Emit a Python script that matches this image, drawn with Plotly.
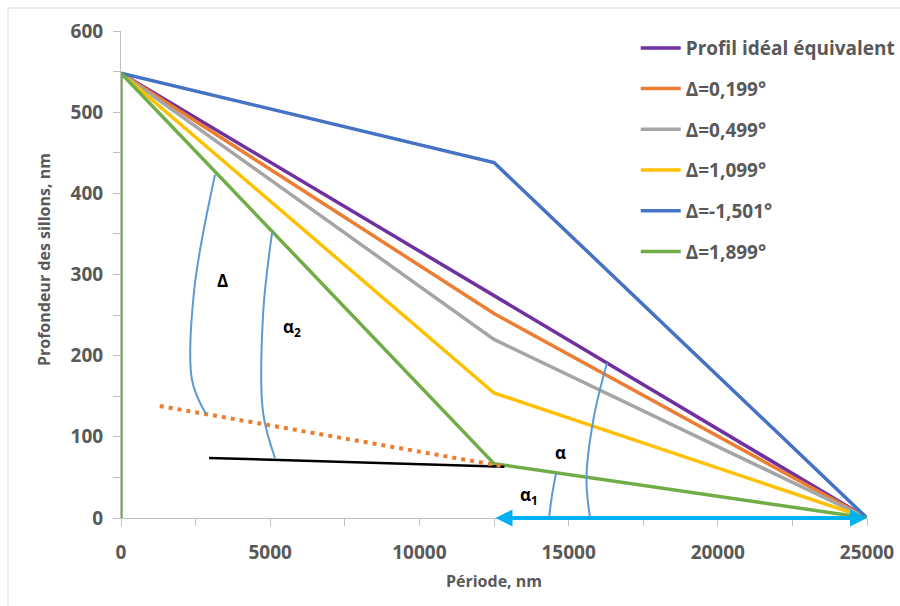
import plotly.graph_objects as go

# Groove depth profiles over one period (nm)
period_x = [0, 12500, 25000]
ideal_depth = [548, 274, 0]
d0199_depth = [548, 252, 0]
d0499_depth = [548, 220, 0]
d1099_depth = [548, 154, 0]
dm1501_depth = [548, 438, 0]
d1899_x = [0, 0, 12500, 25000]
d1899_depth = [0, 548, 67, 0]

series_names = ["Profil idéal équivalent", "Δ=0,199°", "Δ=0,499°",
                "Δ=1,099°", "Δ=-1,501°", "Δ=1,899°"]
series_colors = ["#7030A0", "#ED7D31", "#A5A5A5", "#FFC000", "#4472C4", "#70AD47"]

# Construction lines for the angle definitions
ref_line_x = [2950, 12850]
ref_line_y = [74, 63]
ext_line_x = [1300, 12750]
ext_line_y = [138, 64]

arc_delta_x = [3150, 2450, 2380, 2849]
arc_delta_y = [423, 280, 170, 128]
arc_alpha2_x = [5060, 4760, 4760, 5161]
arc_alpha2_y = [351, 250, 130, 74]
arc_alpha_x = [16287, 15850, 15600, 15718]
arc_alpha_y = [191, 125, 50, 0]
arc_alpha1_x = [14578, 14444, 14343]
arc_alpha1_y = [55, 28, 0]

# Angle labels
label_text = ["Δ", "α<sub>2</sub>", "α", "α<sub>1</sub>", "a"]
label_x = [3418, 5731, 14712, 13673, 17896]
label_y = [293, 235, 81, 28, -15]

# Half-period span "a"
span_x = [12500, 25000]
span_y = [0, 0]

FONT = "Open Sans"
GREY_TXT = "#595959"

fig = go.Figure()

profile_x = [period_x, period_x, period_x, period_x, period_x, d1899_x]
profile_y = [ideal_depth, d0199_depth, d0499_depth, d1099_depth, dm1501_depth, d1899_depth]
for i, (name, color, xs, ys) in enumerate(zip(series_names, series_colors, profile_x, profile_y)):
    fig.add_trace(go.Scatter(
        x=xs, y=ys, mode="lines", name=name,
        line=dict(color=color, width=3.5),
        legendgroup=f"g{i}", hoverinfo="skip",
    ))

fig.add_trace(go.Scatter(x=ref_line_x, y=ref_line_y, mode="lines",
                         line=dict(color="black", width=2.5), showlegend=False))
fig.add_trace(go.Scatter(x=ext_line_x, y=ext_line_y, mode="lines",
                         line=dict(color="#ED7D31", width=4, dash="4px,5px"), showlegend=False))

for ax_, ay_ in [(arc_delta_x, arc_delta_y), (arc_alpha2_x, arc_alpha2_y),
                 (arc_alpha_x, arc_alpha_y), (arc_alpha1_x, arc_alpha1_y)]:
    fig.add_trace(go.Scatter(x=ax_, y=ay_, mode="lines",
                             line=dict(color="#5B9BD5", width=2, shape="spline", smoothing=1.0),
                             showlegend=False))

for t, x, y in zip(label_text, label_x, label_y):
    fig.add_annotation(x=x, y=y, text=t, showarrow=False,
                       font=dict(family=FONT, size=17, color="black", weight="bold"))

# Double-headed arrow for "a"
fig.add_annotation(x=span_x[1], y=span_y[1], ax=span_x[0], ay=span_y[0],
                   xref="x", yref="y", axref="x", ayref="y", text="",
                   showarrow=True, arrowside="end+start", arrowhead=2,
                   arrowsize=0.85, arrowwidth=4, arrowcolor="#00B0F0", standoff=0,
                   startstandoff=0)

# Y axis title
fig.add_annotation(xref="paper", yref="paper", x=-0.103, y=0.53,
                   xanchor="center", yanchor="middle",
                   text="Profondeur des sillons, nm", textangle=-90, showarrow=False,
                   font=dict(family=FONT, size=16, color=GREY_TXT, weight="bold"))

# Chart-area border
fig.add_shape(type="rect", xref="paper", yref="paper",
              x0=(8 - 121) / 746, x1=(905 - 121) / 746,
              y0=(518 - 612) / 487, y1=(518 - 8) / 487,
              line=dict(color="#D9D9D9", width=1), layer="below")

axis_common = dict(showgrid=False, zeroline=False, showline=True, linecolor="#BFBFBF",
                   linewidth=1, ticks="outside", ticklen=7, tickcolor="#BFBFBF",
                   tickformat="d", automargin=False,
                   tickfont=dict(family=FONT, size=19, color=GREY_TXT, weight="bold"))

fig.update_layout(
    width=900, height=606,
    margin=dict(l=121, r=33, t=31, b=88, autoexpand=False),
    paper_bgcolor="white", plot_bgcolor="white",
    xaxis=dict(range=[0, 25000], dtick=5000, tick0=0,
               minor=dict(dtick=2500, ticks="outside", ticklen=7, tickcolor="#BFBFBF"),
               title=dict(text="Période, nm", standoff=12,
                          font=dict(family=FONT, size=16, color=GREY_TXT, weight="bold")),
               ticklabelstandoff=10,
               **axis_common),
    yaxis=dict(range=[0, 600], dtick=100, tick0=0,
               minor=dict(dtick=50, ticks="outside", ticklen=7, tickcolor="#BFBFBF"),
               ticklabelstandoff=6,
               **axis_common),
    showlegend=True,
    legend=dict(x=0.69, y=1.004, xanchor="left", yanchor="top",
                font=dict(family=FONT, size=19, color=GREY_TXT, weight="bold"),
                tracegroupgap=13, itemwidth=40, bgcolor="rgba(0,0,0,0)",
                traceorder="grouped"),
)

fig.write_html("out.html")
